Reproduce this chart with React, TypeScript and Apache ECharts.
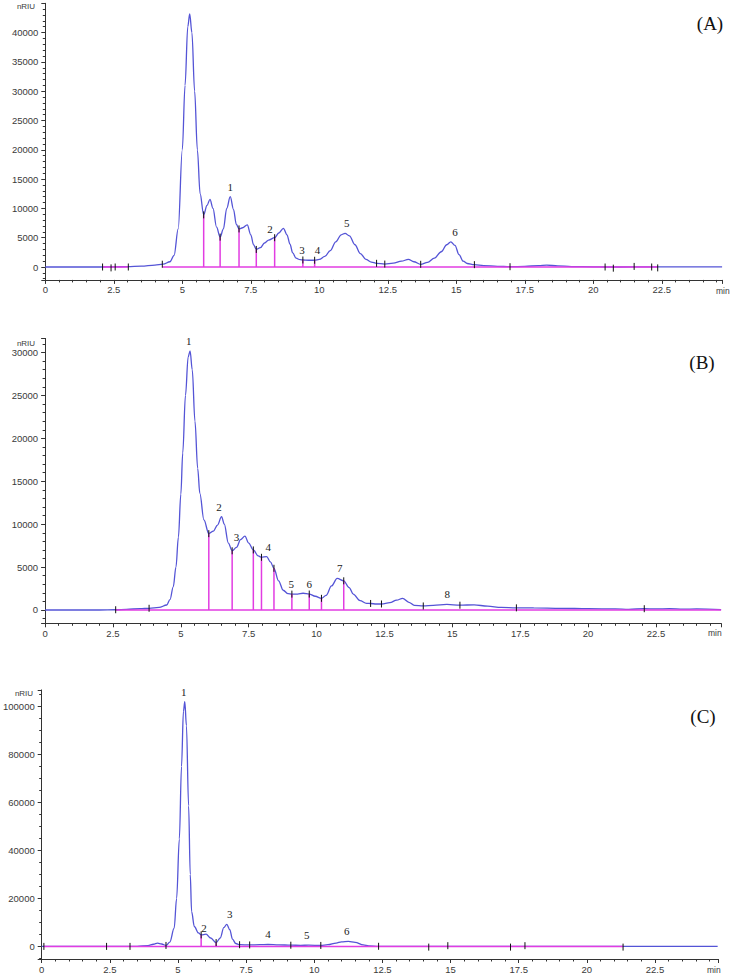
import React, { useEffect, useRef } from "react";
import * as echarts from "echarts";

// ---------- Panel A ----------
const timeA = [0, 1.0, 2.0, 2.5, 3.0, 3.5, 4.0, 4.3, 4.55, 4.7, 4.85, 5.0, 5.1, 5.2, 5.27, 5.35, 5.45, 5.55, 5.65, 5.78, 5.9, 6.01, 6.12, 6.25, 6.38, 6.5, 6.62, 6.75, 6.87, 6.97, 7.07, 7.2, 7.37, 7.5, 7.6, 7.7, 7.85, 8.0, 8.15, 8.37, 8.52, 8.69, 8.82, 8.93, 9.03, 9.15, 9.3, 9.4, 9.6, 9.83, 10.0, 10.2, 10.4, 10.6, 10.8, 10.94, 11.1, 11.3, 11.5, 11.7, 11.9, 12.09, 12.39, 12.7, 13.0, 13.25, 13.45, 13.7, 13.95, 14.2, 14.45, 14.65, 14.8, 14.95, 15.1, 15.25, 15.4, 15.66, 16.0, 16.5, 16.96, 17.5, 18.0, 18.3, 18.7, 19.2, 20.0, 20.43, 21.0, 22.0, 23.0, 24.0, 24.7];
const signalA = [0, 0, 0, 20, 60, 150, 330, 480, 900, 2000, 6500, 20000, 31000, 41000, 43200, 40000, 30000, 20000, 12500, 8900, 10500, 11550, 10000, 6800, 5100, 6500, 10000, 12000, 9800, 7300, 6500, 6700, 7200, 5500, 3800, 3000, 3300, 4100, 4600, 5000, 5800, 6600, 5500, 3900, 2400, 1500, 1250, 1200, 1150, 1150, 1300, 1800, 2800, 4300, 5500, 5750, 5300, 3800, 2300, 1300, 850, 630, 500, 650, 1000, 1300, 900, 460, 800, 1500, 2600, 3800, 4300, 3700, 2100, 1000, 600, 400, 250, 120, 50, 100, 250, 320, 200, 80, 30, 0, 0, 20, 30, 20, 10];
const dropTimeA = [5.78, 6.38, 7.07, 7.7, 8.37, 9.4, 9.83];
const dropValueA = [8900, 5100, 6500, 3000, 5000, 1200, 1150];
const markTimeA = [2.09, 2.4, 2.55, 3.03, 4.27, 5.78, 6.38, 7.07, 7.7, 8.37, 9.4, 9.83, 12.09, 12.39, 13.7, 15.66, 16.96, 20.43, 20.73, 21.49, 22.13, 22.35];
const markValueA = [0, -150, 0, 0, 480, 8900, 5100, 6500, 3000, 5000, 1200, 1150, 630, 500, 460, 400, 50, 0, -200, 100, 0, -150];
const baseStartA = [2.09, 4.27];
const baseEndA = [3.03, 22.35];
const peakNameA = ["1", "2", "3", "4", "5", "6"];
const peakTimeA = [6.75, 8.2, 9.37, 9.93, 11.0, 14.95];
const peakValueA = [12000, 4700, 1200, 1150, 5750, 4300];

// ---------- Panel B ----------
const timeB = [0, 1.0, 2.0, 2.6, 3.0, 3.5, 3.83, 4.2, 4.48, 4.6, 4.72, 4.82, 4.91, 5.0, 5.07, 5.17, 5.27, 5.34, 5.42, 5.52, 5.62, 5.7, 5.85, 6.03, 6.2, 6.35, 6.5, 6.6, 6.75, 6.89, 7.05, 7.2, 7.36, 7.5, 7.67, 7.85, 7.97, 8.16, 8.3, 8.43, 8.6, 8.77, 8.95, 9.09, 9.3, 9.5, 9.73, 9.95, 10.18, 10.35, 10.55, 10.76, 11.0, 11.2, 11.35, 11.6, 11.84, 11.99, 12.2, 12.39, 12.7, 12.95, 13.17, 13.4, 13.6, 13.93, 14.3, 14.8, 15.28, 15.8, 16.3, 16.8, 17.36, 18.0, 19.0, 20.0, 21.0, 21.5, 22.07, 22.5, 23.0, 23.5, 24.0, 24.9];
const signalB = [0, 0, 0, 30, 80, 150, 200, 300, 580, 1200, 2700, 5000, 8500, 13500, 18300, 25000, 29500, 30200, 28000, 22000, 16500, 13600, 10500, 8900, 9200, 9900, 10870, 10000, 7800, 6900, 7300, 8200, 8600, 7800, 7000, 6300, 6140, 6220, 5600, 4860, 3400, 2300, 1900, 1850, 1850, 1950, 1860, 1600, 1360, 1700, 2800, 3690, 3400, 2600, 1860, 1100, 780, 760, 700, 700, 850, 1150, 1360, 900, 550, 470, 550, 650, 560, 600, 450, 300, 250, 240, 200, 150, 120, 80, 150, 120, 150, 100, 120, 50];
const dropTimeB = [6.03, 6.89, 7.67, 7.97, 8.43, 9.09, 9.73, 10.18, 11.0];
const dropValueB = [8900, 6900, 7000, 6140, 4860, 1850, 1860, 1360, 3400];
const markTimeB = [2.6, 3.83, 6.03, 6.89, 7.67, 7.97, 8.43, 9.09, 9.73, 10.18, 11.0, 11.99, 12.39, 13.93, 15.28, 17.36, 22.07];
const markValueB = [30, 200, 8900, 6900, 7000, 6140, 4860, 1850, 1860, 1360, 3400, 760, 700, 470, 560, 250, 150];
const baseStartB = [2.6];
const baseEndB = [24.9];
const peakNameB = ["1", "2", "3", "4", "5", "6", "7", "8"];
const peakTimeB = [5.29, 6.41, 7.05, 8.22, 9.07, 9.73, 10.85, 14.81];
const peakValueB = [30200, 10870, 7300, 6150, 1850, 1860, 3690, 650];

// ---------- Panel C ----------
const timeC = [0, 1.0, 2.0, 3.0, 3.5, 3.9, 4.1, 4.25, 4.4, 4.56, 4.7, 4.86, 4.95, 5.05, 5.13, 5.2, 5.25, 5.31, 5.39, 5.45, 5.5, 5.6, 5.75, 5.85, 6.03, 6.2, 6.4, 6.55, 6.68, 6.79, 6.9, 7.0, 7.12, 7.26, 7.63, 8.0, 8.3, 8.7, 9.14, 9.5, 9.8, 10.24, 10.5, 10.8, 11.0, 11.25, 11.5, 11.8, 12.0, 12.36, 13.0, 15.0, 18.0, 21.0, 24.8];
const signalC = [0, 0, 0, 0, 50, 300, 900, 1370, 1000, 400, 1800, 7600, 20000, 44800, 75000, 98000, 102000, 92000, 58600, 30000, 14500, 8300, 5600, 4800, 5100, 3500, 1600, 3500, 7800, 9200, 7000, 3000, 1200, 700, 600, 750, 800, 650, 500, 450, 500, 400, 700, 1400, 1900, 2070, 1700, 600, 200, 50, 0, 0, 0, 0, 0];
const dropTimeC = [5.85, 6.4];
const dropValueC = [4800, 1600];
const markTimeC = [0.08, 2.38, 3.24, 4.56, 5.85, 6.4, 7.26, 7.63, 9.14, 10.24, 12.36, 14.2, 14.9, 17.2, 17.73, 21.33];
const markValueC = [0, 0, 0, 400, 4800, 1600, 700, 600, 500, 400, 50, -300, 300, -300, 300, -300];
const baseStartC = [0.08];
const baseEndC = [21.33];
const peakNameC = ["1", "2", "3", "4", "5", "6"];
const peakTimeC = [5.21, 5.95, 6.9, 8.3, 9.72, 11.19];
const peakValueC = [102000, 3500, 9200, 800, 500, 2070];

const zip = (a: number[], b: number[]) => a.map((v, i) => [v, b[i]]);

const panels = [
  {
    time: timeA, signal: signalA, dropT: dropTimeA, dropV: dropValueA, markT: markTimeA, markV: markValueA,
    bs: baseStartA, be: baseEndA, pn: peakNameA, pt: peakTimeA, pv: peakValueA,
    grid: { left: 45.3, top: 3.3, width: 676.8, height: 276.6 },
    xMax: 24.7, yMin: -2200, yMax: 45000, ySplit: 9, yStep: 5000, yLabelMax: 40000, yMinor: 5,
    tag: "(A)", tagX: 710, tagY: 23, unitX: 26, unitY: 6, minX: 716, minY: 291,
  },
  {
    time: timeB, signal: signalB, dropT: dropTimeB, dropV: dropValueB, markT: markTimeB, markV: markValueB,
    bs: baseStartB, be: baseEndB, pn: peakNameB, pt: peakTimeB, pv: peakValueB,
    grid: { left: 45.1, top: 338.4, width: 676, height: 284.9 },
    xMax: 24.9, yMin: -1550, yMax: 31650, ySplit: 6, yStep: 5000, yLabelMax: 30000, yMinor: 5,
    tag: "(B)", tagX: 702, tagY: 362, unitX: 26, unitY: 343, minX: 708, minY: 633,
  },
  {
    time: timeC, signal: signalC, dropT: dropTimeC, dropV: dropValueC, markT: markTimeC, markV: markValueC,
    bs: baseStartC, be: baseEndC, pn: peakNameC, pt: peakTimeC, pv: peakValueC,
    grid: { left: 41.4, top: 689.9, width: 676.8, height: 271.1 },
    xMax: 24.82, yMin: -5250, yMax: 106900, ySplit: 5, yStep: 20000, yLabelMax: 100000, yMinor: 4,
    tag: "(C)", tagX: 703, tagY: 716, unitX: 24, unitY: 693, minX: 707, minY: 970,
  },
];

const TRACE = "#5454d6";
const MAGENTA = "#e23ce2";
const AXIS = "#333333";
const SANS = "'Liberation Sans', Arial, sans-serif";
const SERIF = "'Liberation Serif', 'Times New Roman', serif";

export default function App() {
  const ref = useRef<HTMLDivElement>(null);
  useEffect(() => {
    if (!ref.current) return;
    const chart = echarts.init(ref.current, null, { renderer: "svg", width: 732, height: 974 });
    const grids: any[] = [];
    const xAxes: any[] = [];
    const yAxes: any[] = [];
    const series: any[] = [];
    const graphics: any[] = [];

    panels.forEach((p, i) => {
      grids.push({ ...p.grid, containLabel: false });
      xAxes.push({
        type: "value", gridIndex: i, min: 0, max: p.xMax, interval: 2.5,
        axisLine: { onZero: false, lineStyle: { color: AXIS, width: 1 } },
        axisTick: { show: true, length: 4, lineStyle: { color: AXIS } },
        minorTick: { show: true, splitNumber: 5, length: 2.5, lineStyle: { color: AXIS } },
        splitLine: { show: false },
        axisLabel: {
          color: "#3a3a3a", fontSize: 9.5, fontFamily: SANS, margin: 5,
          showMaxLabel: false,
          formatter: (v: number) => (Math.abs(v / 2.5 - Math.round(v / 2.5)) < 1e-6 && v <= 22.5 ? String(v) : ""),
        },
      });
      yAxes.push({
        type: "value", gridIndex: i, min: p.yMin, max: p.yMax, splitNumber: p.ySplit,
        axisLine: { show: true, onZero: false, lineStyle: { color: AXIS, width: 1 } },
        axisTick: { show: true, length: 4, lineStyle: { color: AXIS } },
        minorTick: { show: true, splitNumber: p.yMinor, length: 2.5, lineStyle: { color: AXIS } },
        splitLine: { show: false },
        axisLabel: {
          color: "#3a3a3a", fontSize: 9.5, fontFamily: SANS, margin: 7,
          showMinLabel: false, showMaxLabel: false,
          formatter: (v: number) => (v >= 0 && v <= p.yLabelMax && Math.abs(v % p.yStep) < 1e-6 ? String(v) : ""),
        },
      });

      series.push({
        type: "line", xAxisIndex: i, yAxisIndex: i, data: zip(p.time, p.signal),
        showSymbol: false, smooth: 0.35, smoothMonotone: "x",
        lineStyle: { color: TRACE, width: 1.3 }, z: 2,
      });
      p.bs.forEach((s, k) => {
        series.push({
          type: "line", xAxisIndex: i, yAxisIndex: i, data: [[s, 0], [p.be[k], 0]],
          showSymbol: false, lineStyle: { color: MAGENTA, width: 1.5 }, z: 3,
        });
      });
      series.push({
        type: "custom", xAxisIndex: i, yAxisIndex: i, data: zip(p.dropT, p.dropV), z: 4,
        renderItem: (_params: any, api: any) => {
          const a = api.coord([api.value(0), 0]);
          const b = api.coord([api.value(0), api.value(1)]);
          return { type: "line", shape: { x1: a[0], y1: a[1], x2: b[0], y2: b[1] }, style: { stroke: MAGENTA, lineWidth: 1.5 } };
        },
      });
      series.push({
        type: "custom", xAxisIndex: i, yAxisIndex: i, data: zip(p.markT, p.markV), z: 5,
        renderItem: (_params: any, api: any) => {
          const c = api.coord([api.value(0), api.value(1)]);
          return { type: "line", shape: { x1: c[0], y1: c[1] - 3.5, x2: c[0], y2: c[1] + 3.5 }, style: { stroke: "#111", lineWidth: 1 } };
        },
      });
      series.push({
        type: "custom", xAxisIndex: i, yAxisIndex: i, data: zip(p.pt, p.pv), z: 6,
        renderItem: (params: any, api: any) => {
          const c = api.coord([api.value(0), api.value(1)]);
          return {
            type: "text", x: c[0], y: c[1] - 10,
            style: { text: p.pn[params.dataIndex], fill: "#222", font: `11px ${SERIF}`, textAlign: "center", textVerticalAlign: "middle" },
          };
        },
      });

      graphics.push(
        { type: "text", x: p.tagX, y: p.tagY, style: { text: p.tag, fill: "#111", font: `19px ${SERIF}`, textAlign: "center", textVerticalAlign: "middle" } },
        { type: "text", x: p.unitX, y: p.unitY, style: { text: "nRIU", fill: "#3a3a3a", font: `8px ${SANS}`, textAlign: "center", textVerticalAlign: "middle" } },
        { type: "text", x: p.minX, y: p.minY, style: { text: "min", fill: "#3a3a3a", font: `8.5px ${SANS}`, textAlign: "left", textVerticalAlign: "middle" } },
      );
    });

    chart.setOption({
      animation: false,
      backgroundColor: "#ffffff",
      grid: grids,
      xAxis: xAxes,
      yAxis: yAxes,
      series,
      graphic: graphics,
    });
    return () => chart.dispose();
  }, []);
  return <div ref={ref} style={{ position: "fixed", left: 0, top: 0, width: 732, height: 974, background: "#fff" }} />;
}
